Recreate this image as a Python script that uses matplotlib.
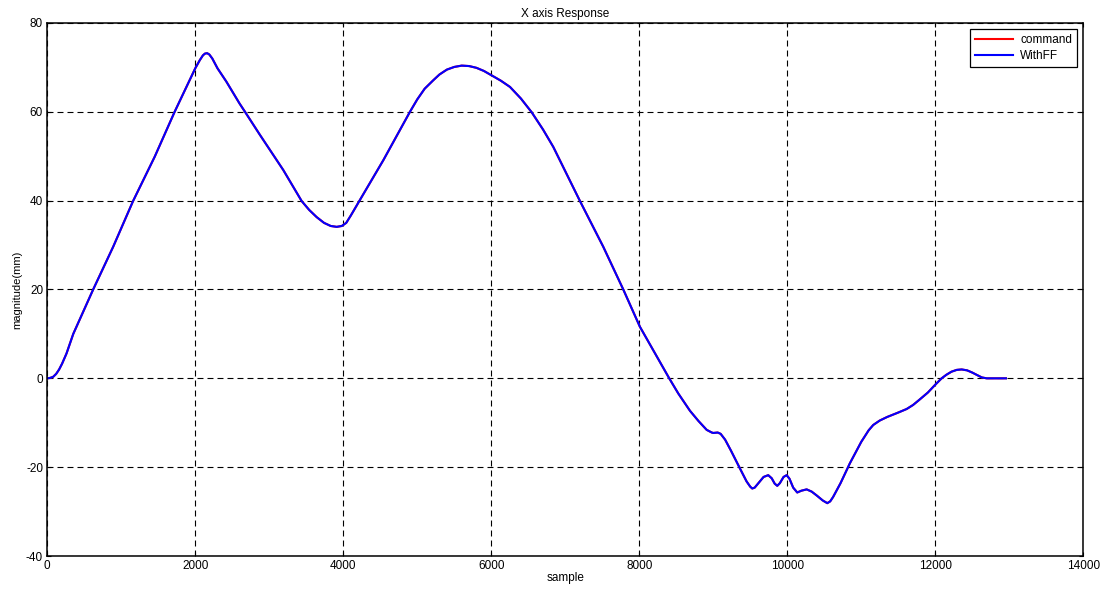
import matplotlib
matplotlib.use('Agg')
import matplotlib.pyplot as plt

plt.rcParams['font.family'] = ['Liberation Sans', 'DejaVu Sans']
plt.rcParams['lines.scale_dashes'] = False
plt.rcParams['axes.unicode_minus'] = False

# points (sample, mm)
sample = [0, 40, 80, 120, 160, 200, 260, 351, 620, 890, 1159, 1452, 1721, 2000,
          2060, 2103, 2130, 2160, 2190, 2230, 2300, 2420, 2597, 2672, 2874,
          3189, 3438, 3540, 3640, 3740, 3830, 3911, 3980, 4040, 4100, 4160,
          4216, 4541, 4901, 5000, 5100, 5216, 5300, 5400, 5500, 5600, 5700,
          5800, 5900, 6005, 6130, 6253, 6400, 6546, 6700, 6838, 7199, 7514,
          7784, 8009, 8405, 8527, 8685, 8800, 8911, 8980, 9000, 9060, 9100,
          9160, 9240, 9361, 9450, 9500, 9527, 9560, 9600, 9680, 9743, 9790,
          9830, 9865, 9900, 9950, 9992, 10030, 10080, 10135, 10190, 10262,
          10330, 10400, 10480, 10541, 10580, 10620, 10720, 10847, 11000, 11100,
          11162, 11250, 11350, 11500, 11614, 11700, 11780, 11900, 11996, 12086,
          12150, 12220, 12290, 12357, 12430, 12500, 12570, 12630, 12695, 12800,
          12955]
command_mm = [0, 0.1, 0.35, 1.0, 2.0, 3.3, 5.6, 10.0, 20.0, 29.6, 39.9, 49.9,
              60.0, 69.8, 71.6, 72.7, 73.1, 73.2, 72.9, 72.0, 69.8, 66.8, 61.9,
              60.0, 54.8, 46.9, 39.9, 37.9, 36.3, 35.0, 34.3, 34.1, 34.3, 35.0,
              36.6, 38.3, 39.9, 49.1, 60.0, 62.8, 65.2, 67.1, 68.4, 69.5, 70.1,
              70.4, 70.3, 69.9, 69.2, 68.2, 67.0, 65.6, 63.0, 59.9, 56.0, 52.1,
              39.9, 29.6, 20.0, 11.6, 0.0, -3.4, -7.3, -9.6, -11.6, -12.2,
              -12.3, -12.2, -12.5, -13.8, -16.3, -20.3, -23.2, -24.4, -24.8,
              -24.6, -23.8, -22.2, -21.8, -22.5, -23.7, -24.2, -23.6, -22.2,
              -21.8, -22.6, -24.6, -25.7, -25.3, -25.0, -25.5, -26.4, -27.5,
              -28.1, -27.7, -26.7, -23.6, -19.1, -14.3, -11.7, -10.5, -9.5,
              -8.7, -7.7, -6.9, -6.0, -4.9, -3.2, -1.5, 0.0, 0.8, 1.5, 1.9, 2.0,
              1.8, 1.3, 0.7, 0.2, 0.0, 0.0, 0.0]
withff_mm = list(command_mm)

xticks = [0, 2000, 4000, 6000, 8000, 10000, 12000, 14000]
yticks = [-40, -20, 0, 20, 40, 60, 80]

fig = plt.figure(figsize=(11.1, 5.89), dpi=100)
ax = fig.add_axes([0.0426, 0.056, 0.9333, 0.905])

ax.plot(sample, command_mm, color='red', linewidth=1.5, label='command')
ax.plot(sample, withff_mm, color='blue', linewidth=1.5, label='WithFF')

ax.set_xlim(0, 14000)
ax.set_ylim(-40, 80)
ax.set_xticks(xticks)
ax.set_yticks(yticks)
ax.tick_params(direction='in', length=3, width=0.8, labelsize=8.5,
               top=True, right=True, pad=3)
for sp in ax.spines.values():
    sp.set_linewidth(1.1)

ax.grid(True, color='black', linestyle=(0, (4.3, 2.9)), linewidth=0.8)
ax.set_axisbelow(True)

ax.set_title('X axis Response', fontsize=8.5, pad=4)
ax.set_xlabel('sample', fontsize=8.5, labelpad=0)
ax.set_ylabel('magnitude(mm)', fontsize=8, labelpad=3)

leg = ax.legend(loc='upper right', fontsize=8.5, fancybox=False, framealpha=1,
                edgecolor='black', handlelength=3.2, handletextpad=0.6,
                borderpad=0.45, labelspacing=0.3, borderaxespad=0.5)
leg.get_frame().set_linewidth(0.9)

fig.savefig('out.png', dpi=100)
